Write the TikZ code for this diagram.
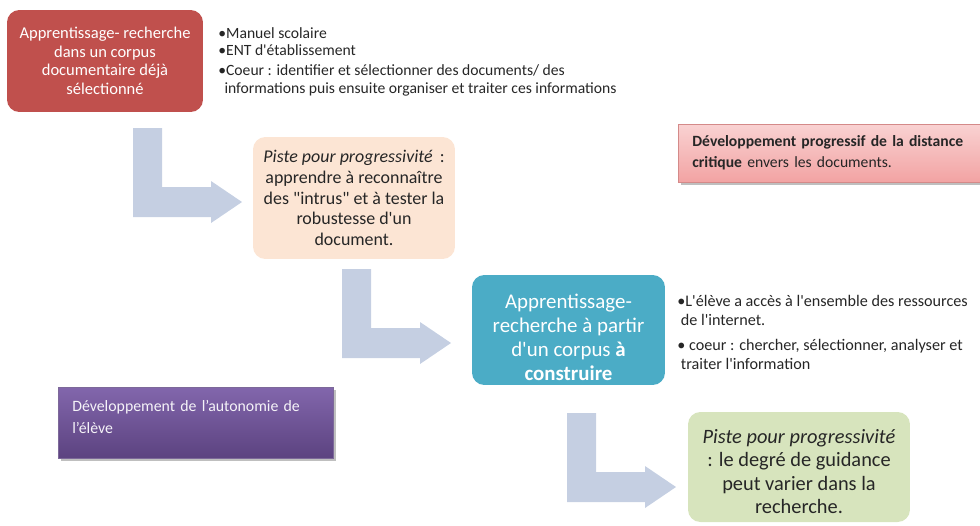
\documentclass[tikz,border=0pt]{standalone}
\usepackage{fontspec}
\setmainfont{Carlito}[Ligatures=TeXOff]
\usetikzlibrary{positioning}

\definecolor{boxred}{HTML}{C0504D}
\definecolor{boxpeach}{HTML}{FCE5D4}
\definecolor{boxteal}{HTML}{4BACC6}
\definecolor{boxgreen}{HTML}{D7E4BD}
\definecolor{boxpurple}{HTML}{8266AC}
\definecolor{boxpurpledark}{HTML}{5C4380}
\definecolor{boxpinktop}{HTML}{F9D2D2}
\definecolor{boxpinkbot}{HTML}{F2A3A3}
\definecolor{boxpinkline}{HTML}{D48A89}
\definecolor{arrowblue}{HTML}{C5CFE2}
\definecolor{textdark}{HTML}{262626}

\tikzset{
  stepbox/.style={rounded corners=7pt, align=center, inner sep=0pt},
  notetext/.style={align=left, inner sep=0pt, anchor=north west, text=textdark},
  framebox/.style={align=left, inner xsep=0.28cm, inner ysep=0pt, anchor=west},
}

% L-shaped block arrow, top left corner at (#1,#2)
\newcommand{\bendarrow}[2]{%
  \fill[arrowblue] (#1,#2) -- ++(29,0) -- ++(0,59) -- ++(49,0) -- ++(0,-6)
    -- ++(31,21) -- ++(-31,21) -- ++(0,-6) -- ++(-78,0) -- cycle;}

\begin{document}
\begin{tikzpicture}[x=0.02cm,y=-0.02cm]
    \useasboundingbox (0,0) rectangle (980,525);
    \clip (0,0) rectangle (980,525);

    % Arrows
    \bendarrow{133}{128}
    \bendarrow{342}{269}
    \bendarrow{567}{413}

    % Step 1
    \node[stepbox, fill=boxred, text=white, minimum width=3.92cm, minimum height=2.04cm,
          font=\fontsize{9.4}{10.6}\selectfont] (etape1) at (105,61)
          {Apprentissage- recherche\\dans un corpus\\documentaire déjà\\sélectionné};
    \node[notetext, font=\fontsize{8.9}{10.4}\selectfont] (liste1) at (218,27)
          {•Manuel scolaire\\[-0.5pt]
           •ENT d'établissement\\[1pt]
           •Coeur : identifier et sélectionner des documents/ des\\
           \hspace{3.5pt}informations puis ensuite organiser et traiter ces informations};

    % Piste 1
    \node[stepbox, fill=boxpeach, text=textdark, minimum width=4.04cm, minimum height=2.44cm,
          font=\fontsize{10.2}{11.8}\selectfont] (piste1) at (354,198)
          {\textit{Piste pour progressivité}\, :\\apprendre à reconnaître\\des "intrus" et à tester la\\robustesse d'un\\document.};

    % Critical distance note
    \fill[black!25] (681,127) rectangle (1000,185);
    \node[framebox, draw=boxpinkline, top color=boxpinktop, bottom color=boxpinkbot,
          minimum width=6.6cm, minimum height=1.16cm, text width=6.04cm, text=textdark,
          font=\fontsize{8.9}{12}\selectfont] (distance) at (678,153)
          {\textbf{Développement progressif de la distance}\\\textbf{critique} envers les documents.};

    % Step 2
    \node[stepbox, fill=boxteal, minimum width=3.86cm, minimum height=2.2cm,
          label={[text=white, align=center, yshift=-0.14cm, font=\fontsize{11.9}{13.6}\selectfont]center:
          Apprentissage-\\recherche à partir\\d'un corpus \textbf{à}\\\textbf{construire}}] (etape2) at (568.5,330) {};
    \node[notetext, font=\fontsize{9.2}{10.8}\selectfont] (liste2) at (677,295)
          {•L'élève a accès à l'ensemble des ressources\\
           \hspace{2pt}de l'internet.\\[3.5pt]
           • coeur : chercher, sélectionner, analyser et\\
           \hspace{2pt}traiter l'information};

    % Autonomy note
    \fill[black!25] (61,390) rectangle (336,461);
    \node[framebox, draw=boxpurpledark!80, top color=boxpurple, bottom color=boxpurpledark,
          minimum width=5.5cm, minimum height=1.42cm, text width=4.94cm, text=white!92!boxpurple,
          font=\fontsize{9}{12.4}\selectfont] (autonomie) at (58,422.5)
          {Développement de l’autonomie de\\l’élève\\[-6pt]\mbox{}};

    % Piste 2
    \node[stepbox, fill=boxgreen, minimum width=4.44cm, minimum height=2.2cm,
          label={[text=textdark, align=center, yshift=-0.09cm, font=\fontsize{11.6}{13.2}\selectfont]center:
          \textit{Piste pour progressivité}\\: le degré de guidance\\peut varier dans la\\recherche.}] (piste2) at (799,467) {};
\end{tikzpicture}
\end{document}
